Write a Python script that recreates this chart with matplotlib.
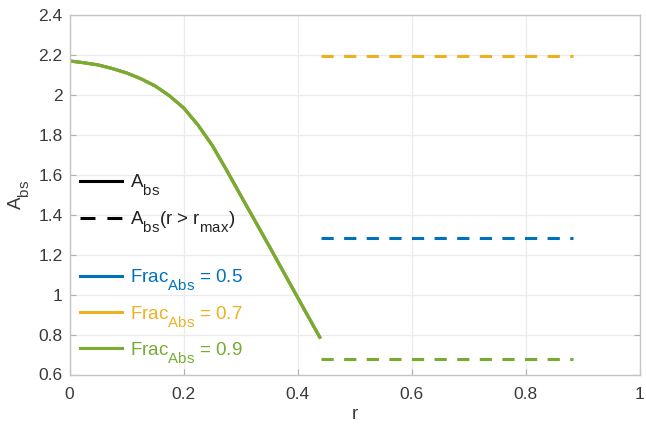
import matplotlib.pyplot as plt
import matplotlib._mathtext as mathtext
from matplotlib.lines import Line2D

plt.rcParams['font.family'] = ['Liberation Sans', 'DejaVu Sans']
plt.rcParams['mathtext.fontset'] = 'custom'
plt.rcParams['mathtext.rm'] = 'Liberation Sans'
plt.rcParams['mathtext.it'] = 'Liberation Sans'
# bigger, lower subscripts (TeX-interpreter look)
mathtext.SHRINK_FACTOR = 0.8
mathtext.FontConstantsBase.sub1 = 0.8
mathtext.FontConstantsBase.sub2 = 0.8

# A_bs profile (identical for all three Frac_Abs cases, drawn in order)
r = [0.0, 0.025, 0.05, 0.075, 0.10, 0.125, 0.15, 0.175, 0.20, 0.225,
     0.25, 0.275, 0.30, 0.325, 0.35, 0.375, 0.40, 0.42, 0.44]
a_bs = [2.170, 2.161, 2.150, 2.132, 2.110, 2.081, 2.045, 1.996, 1.935, 1.850,
        1.748, 1.625, 1.497, 1.370, 1.243, 1.114, 0.985, 0.882, 0.780]

# asymptotic value for r > r_max
r_tail = [0.44, 0.883]
frac_abs = [0.5, 0.7, 0.9]
a_tail = [1.285, 2.197, 0.68]
colors = ['#0072BD', '#EDB120', '#77AC30']

fig = plt.figure(figsize=(6.46, 4.28), dpi=100)
ax = fig.add_axes([69.5 / 646, 1 - 374.5 / 428, 570.5 / 646, 359.5 / 428])

for c, yt in zip(colors, a_tail):
    ax.plot(r, a_bs, color=c, lw=2.2, solid_capstyle='butt', solid_joinstyle='round')
    ax.plot(r_tail, [yt, yt], color=c, lw=2.2, dashes=(4.0, 3.4))

ax.set_xlim(0, 1)
ax.set_ylim(0.6, 2.4)
ax.set_xticks([0, 0.2, 0.4, 0.6, 0.8, 1])
ax.set_xticklabels(['0', '0.2', '0.4', '0.6', '0.8', '1'])
ax.set_yticks([0.6, 0.8, 1.0, 1.2, 1.4, 1.6, 1.8, 2.0, 2.2, 2.4])
ax.set_yticklabels(['0.6', '0.8', '1', '1.2', '1.4', '1.6', '1.8', '2', '2.2', '2.4'])
ax.grid(True, color='#ebebeb', lw=0.9)
ax.set_axisbelow(True)
for s in ax.spines.values():
    s.set_color('#c4c4c4')
    s.set_linewidth(1.0)
ax.tick_params(direction='in', length=4, width=0.8, color='#b0b0b0',
               labelsize=12.5, labelcolor='#3a3a3a', right=True, top=False)
ax.tick_params(axis='x', pad=9)
ax.tick_params(axis='y', pad=5)

ax.set_xlabel('r', fontsize=13.5, color='#3a3a3a', labelpad=3)
ax.set_ylabel(r'A$_{\mathrm{bs}}$', fontsize=13.5, color='#3a3a3a', labelpad=5)

# legend: line styles
style_handles = [Line2D([], [], color='black', lw=2.2),
                 Line2D([], [], color='black', lw=2.2, dashes=(4.9, 3.9))]
style_labels = [r'A$_{\mathrm{bs}}$', r'A$_{\mathrm{bs}}$(r > r$_{\mathrm{max}}$)']
leg1 = ax.legend(style_handles, style_labels, loc='upper left',
                 bbox_to_anchor=(-0.012, 0.61), frameon=False, fontsize=13.5,
                 handlelength=2.25, handletextpad=0.45, labelspacing=0.66,
                 labelcolor='#222222')
ax.add_artist(leg1)

# legend: Frac_Abs colours
frac_handles = [Line2D([], [], color=c, lw=2.2) for c in colors]
frac_labels = [r'Frac$_{\mathrm{Abs}}$ = %.1f' % f for f in frac_abs]
ax.legend(frac_handles, frac_labels, loc='upper left',
          bbox_to_anchor=(-0.012, 0.345), frameon=False, fontsize=13.5,
          handlelength=2.25, handletextpad=0.45, labelspacing=0.6,
          labelcolor='linecolor')

fig.savefig('out.png', dpi=100)
